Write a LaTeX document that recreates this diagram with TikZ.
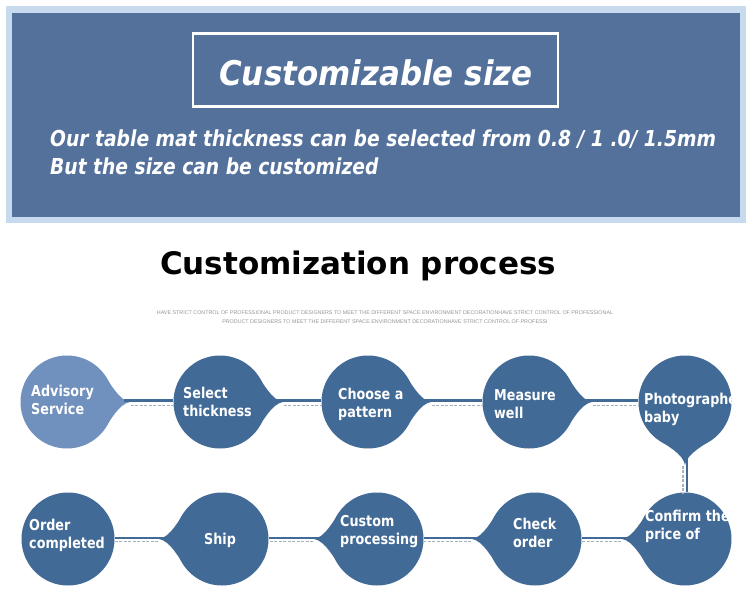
\documentclass[tikz,border=0pt]{standalone}
\usepackage{fontspec}
\usetikzlibrary{calc}
\setmainfont{DejaVu Sans}
\newfontfamily\condA[FakeStretch=0.91]{DejaVu Sans}
\newfontfamily\condB[FakeStretch=0.85]{DejaVu Sans}
\newfontfamily\condC[FakeStretch=0.85]{DejaVu Sans}
\newfontfamily\smallsans{Liberation Sans}
\definecolor{cblue}{RGB}{66,106,150}
\definecolor{clight}{RGB}{112,144,190}
\definecolor{hdr}{RGB}{83,113,155}
\definecolor{hdrlight}{RGB}{200,218,238}
\definecolor{dashgray}{RGB}{165,176,192}
\definecolor{tinygray}{RGB}{150,150,150}
\newcommand\spout[3]{\fill[#3] ($(#1.center)+({#2+34}:46)$) .. controls ($(#1.center)+({#2+25}:47)$) and ($(#1.center)+({#2+1.7}:52)$) .. ($(#1.center)+(#2:63)$) .. controls ($(#1.center)+({#2-1.7}:52)$) and ($(#1.center)+({#2-25}:47)$) .. ($(#1.center)+({#2-34}:46)$) -- (#1.center) -- cycle;}
\begin{document}
\begin{tikzpicture}[x=1pt,y=-1pt,
  circ/.style={circle,fill=cblue,minimum size=93pt,inner sep=0pt},
  lbl/.style={text=white,font=\condC\bfseries\fontsize{15}{18}\selectfont,align=left,anchor=west,inner sep=0pt},
  solidln/.style={draw=cblue,line width=2.6pt},
  dashln/.style={draw=dashgray,line width=1.5pt,dash pattern=on 3pt off 1.5pt},
]
\useasboundingbox (0,0) rectangle (750,608);
\fill[white] (0,0) rectangle (750,608);
% header
\fill[hdrlight] (6,6) rectangle (746,223);
\fill[hdr] (12,13) rectangle (740,217);
\node[draw=white,line width=2.5pt,minimum width=365pt,minimum height=73pt,inner sep=0pt] (box) at (375.5,70) {};
\node[text=white,font=\condA\bfseries\itshape\fontsize{34}{40}\selectfont,inner sep=0pt] (title) at (376,73) {Customizable size};
\node[anchor=west,text=white,font=\condB\bfseries\itshape\fontsize{22}{28}\selectfont,align=left,inner sep=0pt] (desc) at (50,152) {Our table mat thickness can be selected from 0.8 / 1 .0/ 1.5mm\\But the size can be customized};
% heading
\node[font=\bfseries\fontsize{31}{36}\selectfont,inner sep=0pt] (proc) at (358,266) {Customization process};
\node[text=tinygray,font=\smallsans\fontsize{5.35}{9}\selectfont,align=center,inner sep=0pt] (tiny) at (385,317.5) {HAVE STRICT CONTROL OF PROFESSIONAL PRODUCT DESIGNERS TO MEET THE DIFFERENT SPACE ENVIRONMENT DECORATIONHAVE STRICT CONTROL OF PROFESSIONAL\\PRODUCT DESIGNERS TO MEET THE DIFFERENT SPACE ENVIRONMENT DECORATIONHAVE STRICT CONTROL OF PROFESSI};
% circles
\node[circ,fill=clight] (c1) at (67,402) {};
\node[circ] (c2) at (220,402) {};
\node[circ] (c3) at (368,402) {};
\node[circ] (c4) at (529,402) {};
\node[circ] (c5) at (685,402) {};
\node[circ] (c6) at (685,539) {};
\node[circ] (c7) at (535,539) {};
\node[circ] (c8) at (377,539) {};
\node[circ] (c9) at (222,539) {};
\node[circ] (c10) at (68,539) {};
% spouts
\spout{c1}{0}{clight}
\spout{c2}{0}{cblue}
\spout{c3}{0}{cblue}
\spout{c4}{0}{cblue}
\spout{c5}{90}{cblue}
\spout{c6}{180}{cblue}
\spout{c7}{180}{cblue}
\spout{c8}{180}{cblue}
\spout{c9}{180}{cblue}
% connectors row 1
\foreach \a/\b in {c1/c2,c2/c3,c3/c4,c4/c5}{
  \draw[solidln] ([xshift=10pt,yshift=1.5pt]\a.east) -- ([yshift=1.5pt]\b.west);
  \draw[dashln] ([xshift=17pt,yshift=-3.5pt]\a.east) -- ([yshift=-3.5pt]\b.west);
}
% vertical connector
\draw[solidln] ([xshift=2pt,yshift=-10pt]c5.south) -- ([xshift=2pt]c6.north);
\draw[dashln] ([xshift=-2pt,yshift=-17pt]c5.south) -- ([xshift=-2pt,yshift=-1pt]c6.north);
% connectors row 2
\foreach \a/\b in {c6/c7,c7/c8,c8/c9,c9/c10}{
  \draw[solidln] ([xshift=-10pt,yshift=1pt]\a.west) -- ([yshift=1pt]\b.east);
  \draw[dashln] ([xshift=-17pt,yshift=-2.5pt]\a.west) -- ([yshift=-2.5pt]\b.east);
}
% labels
\node[lbl] (t1) at (31,399.5) {Advisory\\Service};
\node[lbl] (t2) at (183,402) {Select\\thickness};
\node[lbl] (t3) at (338,404) {Choose a\\pattern};
\node[lbl] (t4) at (494,404) {Measure\\well};
\node[lbl] (t5) at (644,409) {Photographe\\baby};
\node[lbl] (t6) at (645,526) {Confirm the\\price of};
\node[lbl] (t7) at (513,533) {Check\\order};
\node[lbl] (t8) at (340,532) {Custom\\processing};
\node[lbl,anchor=center] (t9) at (220,540) {Ship};
\node[lbl] (t10) at (29,535) {Order\\completed};
\end{tikzpicture}
\end{document}
